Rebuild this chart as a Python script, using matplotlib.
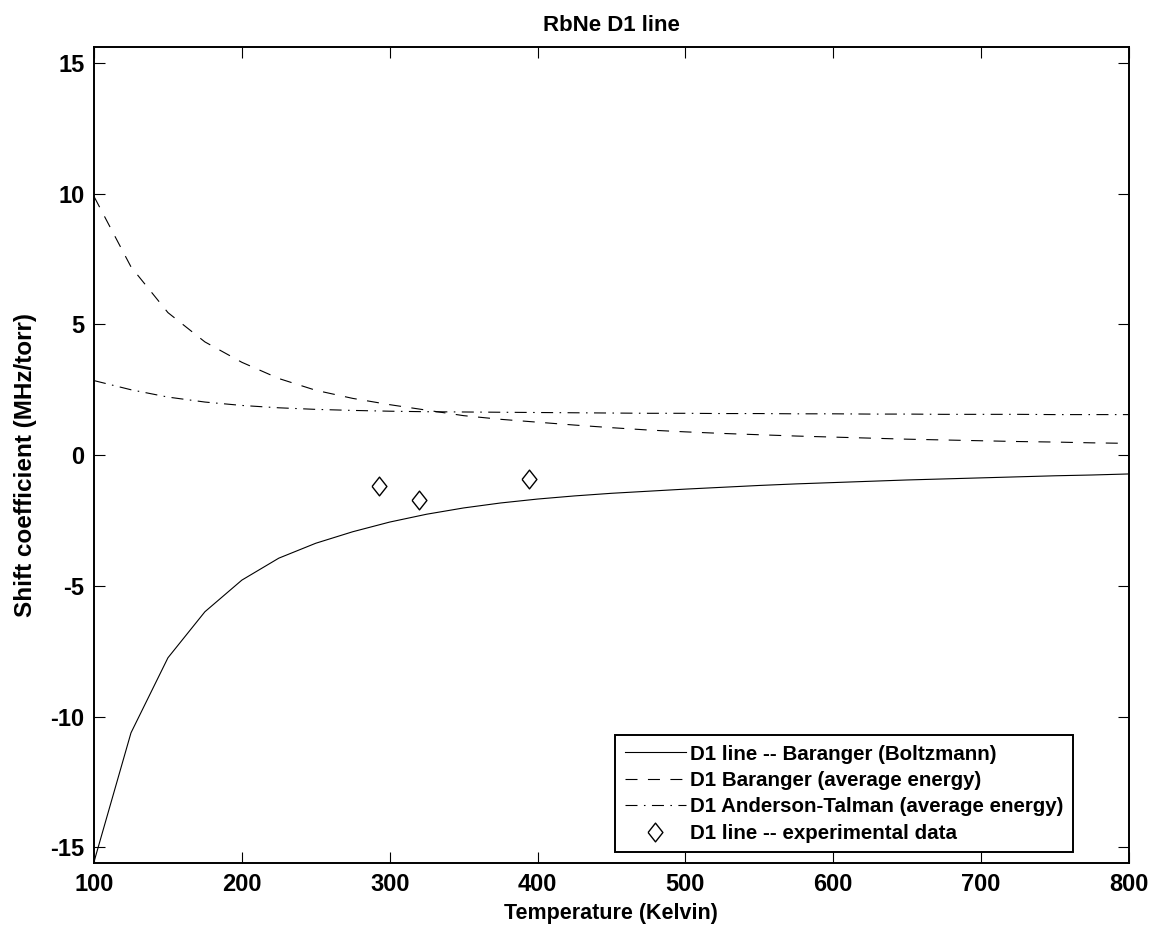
import numpy as np
import matplotlib
matplotlib.use('Agg')
import matplotlib.pyplot as plt

plt.rcParams['font.family'] = ['Liberation Sans', 'DejaVu Sans']
plt.rcParams['font.weight'] = 'bold'
plt.rcParams['axes.unicode_minus'] = False

# temperature grid (Kelvin)
temp = [100, 125, 150, 175, 200, 225, 250, 275, 300, 325, 350, 375, 400, 425, 450,
        475, 500, 525, 550, 575, 600, 625, 650, 675, 700, 725, 750, 775, 800]

# D1 line -- Baranger (Boltzmann)
shift_boltz = [-15.55, -10.62, -7.75, -5.99, -4.78, -3.94, -3.37, -2.93, -2.56, -2.26,
               -2.02, -1.83, -1.68, -1.56, -1.46, -1.38, -1.30, -1.23, -1.16, -1.10,
               -1.05, -1.00, -0.95, -0.91, -0.87, -0.83, -0.79, -0.76, -0.72]

# D1 Baranger (average energy)
shift_avg = [9.89, 7.20, 5.45, 4.33, 3.55, 2.93, 2.48, 2.17, 1.93, 1.72,
             1.51, 1.37, 1.26, 1.15, 1.05, 0.96, 0.89, 0.83, 0.78, 0.73,
             0.69, 0.65, 0.61, 0.58, 0.55, 0.52, 0.50, 0.47, 0.45]

# D1 Anderson-Talman (average energy)
shift_at = [2.85, 2.50, 2.22, 2.03, 1.90, 1.81, 1.75, 1.71, 1.68, 1.66,
            1.65, 1.64, 1.63, 1.62, 1.61, 1.60, 1.60, 1.59, 1.59, 1.58,
            1.58, 1.57, 1.57, 1.56, 1.56, 1.56, 1.55, 1.55, 1.55]

# experimental data
exp_temp = [293, 320, 394]
exp_shift = [-1.19, -1.70, -0.90]

fig = plt.figure(figsize=(11.51, 9.26), dpi=100)
ax = fig.add_axes([0.0817, 0.068, 0.899, 0.881])

diamond = [(-0.79, 0), (0, 1), (0.79, 0), (0, -1), (-0.79, 0)]

ax.plot(temp, shift_boltz, color='k', lw=0.8, label='D1 line -- Baranger (Boltzmann)')
ax.plot(temp, shift_avg, color='k', lw=0.8, linestyle=(0, (10.8, 9.4)),
        label='D1 Baranger (average energy)')
ax.plot(temp, shift_at, color='k', lw=0.8, linestyle=(0, (10.8, 5.8, 1.4, 5.8)),
        label='D1 Anderson-Talman (average energy)')
ax.plot(exp_temp, exp_shift, linestyle='none', marker=diamond, markersize=13.5,
        markerfacecolor='none', markeredgecolor='k', markeredgewidth=1.0,
        label='D1 line -- experimental data')

ax.set_xlim(100, 800)
ax.set_ylim(-15.6, 15.6)
ax.set_xticks(range(100, 801, 100))
ax.set_yticks(range(-15, 16, 5))
ax.tick_params(direction='in', length=8, width=0.8, top=True, right=True,
               labelsize=17, pad=7)
for s in ax.spines.values():
    s.set_linewidth(1.4)

ax.set_title('RbNe D1 line', fontsize=16, fontweight='bold', pad=12)
ax.set_xlabel('Temperature (Kelvin)', fontsize=15.5, fontweight='bold', labelpad=5)
ax.set_ylabel('Shift coefficient (MHz/torr)', fontsize=17.5, fontweight='bold')
ax.yaxis.set_label_coords(-0.0555, 0.488)

leg = ax.legend(loc='lower right', bbox_to_anchor=(0.946, 0.0135), fontsize=14.8,
                numpoints=1, handlelength=3.0, handletextpad=0.2, labelspacing=0.36,
                borderpad=0.45, borderaxespad=0, fancybox=False, framealpha=1,
                edgecolor='k')
leg.get_frame().set_linewidth(1.4)

fig.savefig('out.png', dpi=100)
